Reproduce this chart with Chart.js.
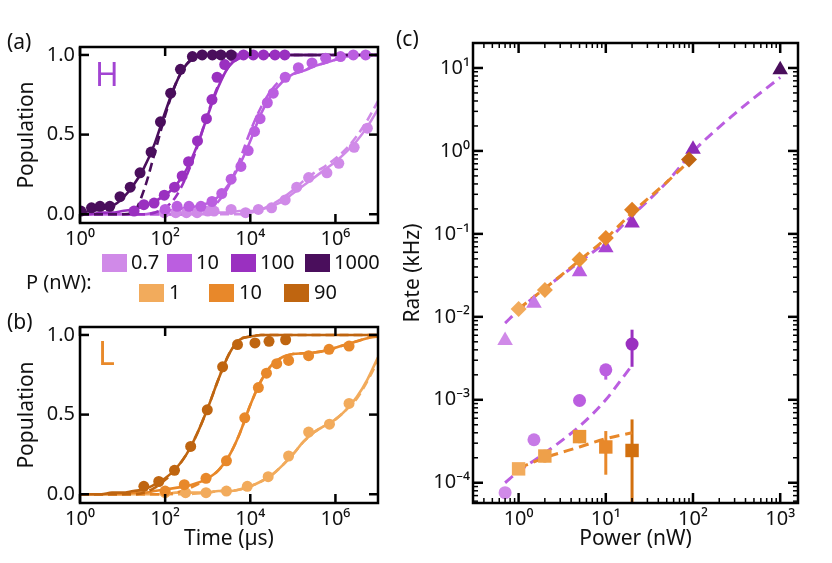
<!DOCTYPE html>
<html>
<head>
<meta charset="utf-8">
<script src="https://cdn.jsdelivr.net/npm/chart.js@4.4.1/dist/chart.umd.min.js"></script>
<style>
  body { margin: 0; background: #fff; font-family: "Noto Sans", "DejaVu Sans", sans-serif; }
  #wrap { position: relative; width: 832px; height: 563px; overflow: hidden; }
  canvas { position: absolute; }
  .lbl { position: absolute; font-size: 20px; line-height: 1; color: #111; white-space: nowrap; }
  .sw { position: absolute; width: 25px; height: 18px; }
</style>
</head>
<body>
<div id="wrap">
  <canvas id="chartA" width="395" height="225" style="left:0;top:30px"></canvas>
  <canvas id="chartB" width="395" height="250" style="left:0;top:310px"></canvas>
  <canvas id="chartC" width="437" height="535" style="left:395px;top:25px"></canvas>

  <div class="lbl" style="left:7px;top:31px;font-size:21px">(a)</div>
  <div class="lbl" style="left:7px;top:311px;font-size:21px">(b)</div>
  <div class="lbl" style="left:396px;top:28px;font-size:21px">(c)</div>
  <div class="lbl" style="left:95px;top:58px;font-size:32px;color:#a244d2">H</div>
  <div class="lbl" style="left:98px;top:337px;font-size:32px;color:#e8892a">L</div>

  <div id="legend"></div>
</div>

<script>
// ---- panel (a): H population, time given as log10(t / µs) ----
const hPowers = ['0.7', '10', '100', '1000'];
const hColors = ['#d08ae8', '#bb5ee0', '#9a30c0', '#4a0e5c'];

const hLog1000 = [0.02, 0.27, 0.47, 0.70, 0.94, 1.18, 1.41, 1.67, 1.89, 2.13, 2.36, 2.64, 2.87, 3.11, 3.31, 3.55];
const hPop1000 = [0.02, 0.04, 0.05, 0.05, 0.11, 0.17, 0.26, 0.39, 0.58, 0.76, 0.91, 0.99, 1.0, 1.0, 1.0, 1.0];
const hLog100 = [1.27, 1.50, 1.74, 1.98, 2.22, 2.40, 2.55, 2.76, 2.97, 3.10, 3.22, 3.40, 3.60, 3.84, 4.07, 4.31, 4.58, 4.81];
const hPop100 = [0.02, 0.06, 0.07, 0.12, 0.17, 0.24, 0.33, 0.46, 0.60, 0.72, 0.86, 0.94, 0.99, 1.0, 1.0, 1.0, 1.0, 1.0];
const hLog10 = [2.00, 2.28, 2.56, 2.84, 3.10, 3.33, 3.55, 3.78, 3.95, 4.10, 4.23, 4.40, 4.54, 4.82, 5.13, 5.45, 5.77, 6.12, 6.42, 6.71];
const hPop10 = [0.03, 0.05, 0.05, 0.05, 0.08, 0.13, 0.22, 0.30, 0.40, 0.52, 0.60, 0.70, 0.76, 0.86, 0.92, 0.95, 0.98, 0.99, 1.0, 1.0];
const hLog07 = [1.98, 2.25, 2.50, 2.75, 3.00, 3.15, 3.55, 3.89, 4.19, 4.50, 4.82, 5.09, 5.37, 5.80, 6.08, 6.44, 6.75];
const hPop07 = [0.01, 0.01, 0.01, 0.01, 0.02, 0.02, 0.03, 0.01, 0.03, 0.04, 0.09, 0.17, 0.23, 0.26, 0.32, 0.42, 0.54];

// fit curves read at log10(t) = 0, 0.25, ... 7
const fitLog = [0, 0.25, 0.5, 0.75, 1, 1.25, 1.5, 1.75, 2, 2.25, 2.5, 2.75, 3, 3.25, 3.5, 3.75, 4, 4.25, 4.5, 4.75, 5, 5.25, 5.5, 5.75, 6, 6.25, 6.5, 6.75, 7];
const hSolid1000 = [0.01, 0.02, 0.03, 0.05, 0.10, 0.18, 0.29, 0.44, 0.64, 0.82, 0.94, 0.99, 1, 1, 1, 1, 1, 1, 1, 1, 1, 1, 1, 1, 1, 1, 1, 1, 1];
const hDash1000 = [0, 0, 0, 0, 0, 0.01, 0.15, 0.38, 0.62, 0.82, 0.94, 0.99, 1, 1, 1, 1, 1, 1, 1, 1, 1, 1, 1, 1, 1, 1, 1, 1, 1];
const hSolid100 = [0, 0, 0.01, 0.01, 0.02, 0.03, 0.05, 0.08, 0.12, 0.18, 0.28, 0.43, 0.62, 0.80, 0.93, 0.98, 1, 1, 1, 1, 1, 1, 1, 1, 1, 1, 1, 1, 1];
const hDash100 = [0, 0, 0, 0, 0, 0, 0, 0.01, 0.04, 0.11, 0.24, 0.42, 0.63, 0.81, 0.93, 0.98, 1, 1, 1, 1, 1, 1, 1, 1, 1, 1, 1, 1, 1];
const hSolid10 = [0, 0, 0, 0, 0, 0, 0, 0.01, 0.02, 0.03, 0.04, 0.05, 0.07, 0.11, 0.19, 0.31, 0.46, 0.63, 0.75, 0.83, 0.88, 0.90, 0.93, 0.95, 0.97, 0.99, 1, 1, 1];
const hDash10 = [0, 0, 0, 0, 0, 0, 0, 0, 0, 0, 0, 0.01, 0.03, 0.08, 0.18, 0.34, 0.52, 0.67, 0.78, 0.85, 0.88, 0.90, 0.93, 0.95, 0.97, 0.99, 1, 1, 1];
const hSolid07 = [0, 0, 0, 0, 0, 0, 0, 0, 0, 0, 0, 0, 0, 0.01, 0.01, 0.02, 0.02, 0.03, 0.05, 0.08, 0.13, 0.18, 0.23, 0.28, 0.33, 0.39, 0.46, 0.55, 0.66];
const hDash07 = [0, 0, 0, 0, 0, 0, 0, 0, 0, 0, 0, 0, 0, 0, 0, 0, 0.01, 0.03, 0.06, 0.10, 0.15, 0.21, 0.26, 0.30, 0.35, 0.41, 0.49, 0.59, 0.71];

// ---- panel (b): L population ----
const lPowers = ['1', '10', '90'];
const lColors = ['#f2ab5c', '#e8882a', '#bf6510'];

const lLog90 = [1.50, 1.85, 2.22, 2.60, 2.99, 3.35, 3.70, 4.11, 4.44, 4.83];
const lPop90 = [0.05, 0.08, 0.15, 0.30, 0.53, 0.80, 0.94, 0.95, 0.96, 0.97];
const lLog10 = [2.00, 2.45, 2.96, 3.44, 3.87, 4.19, 4.38, 4.62, 4.90, 5.37, 5.85, 6.32];
const lPop10 = [0.02, 0.06, 0.10, 0.21, 0.48, 0.67, 0.76, 0.82, 0.84, 0.87, 0.91, 0.93];
const lLog1 = [2.00, 2.48, 2.96, 3.44, 3.93, 4.42, 4.90, 5.37, 5.86, 6.32];
const lPop1 = [0.01, 0.01, 0.01, 0.02, 0.05, 0.11, 0.24, 0.39, 0.44, 0.57];

const lSolid90 = [0, 0, 0, 0.01, 0.01, 0.02, 0.03, 0.06, 0.10, 0.16, 0.25, 0.38, 0.54, 0.72, 0.88, 0.97, 0.99, 1, 1, 1, 1, 1, 1, 1, 1, 1, 1, 1, 1];
const lDash90 = [0, 0, 0, 0, 0, 0, 0.01, 0.04, 0.09, 0.16, 0.25, 0.38, 0.54, 0.72, 0.88, 0.97, 0.99, 1, 1, 1, 1, 1, 1, 1, 1, 1, 1, 1, 1];
const lSolid10 = [0, 0, 0, 0, 0, 0.01, 0.01, 0.02, 0.03, 0.04, 0.05, 0.07, 0.10, 0.15, 0.24, 0.38, 0.56, 0.71, 0.81, 0.86, 0.88, 0.885, 0.89, 0.90, 0.92, 0.94, 0.96, 0.98, 0.99];
const lDash10 = [0, 0, 0, 0, 0, 0, 0, 0, 0, 0.01, 0.03, 0.06, 0.10, 0.15, 0.24, 0.38, 0.56, 0.71, 0.81, 0.86, 0.88, 0.885, 0.89, 0.90, 0.92, 0.94, 0.96, 0.98, 1.0];
const lSolid1 = [0, 0, 0, 0, 0, 0, 0, 0, 0, 0.01, 0.01, 0.01, 0.01, 0.02, 0.02, 0.03, 0.05, 0.08, 0.12, 0.18, 0.25, 0.33, 0.39, 0.43, 0.47, 0.53, 0.61, 0.72, 0.86];
const lDash1 = [0, 0, 0, 0, 0, 0, 0, 0, 0, 0, 0, 0.005, 0.01, 0.02, 0.02, 0.03, 0.05, 0.08, 0.12, 0.18, 0.25, 0.33, 0.39, 0.43, 0.47, 0.53, 0.60, 0.71, 0.84];

const timeTicks = [1, 1e2, 1e4, 1e6];
const timeTickLabels = ['10⁰', '10²', '10⁴', '10⁶'];
const popTicks = [0, 0.5, 1];
const popTickLabels = ['0.0', '0.5', '1.0'];

// ---- panel (c): rates vs power ----
const triPower = [0.7, 1.5, 5, 10, 20, 100, 1000];
const triRate = [0.0052, 0.0146, 0.035, 0.068, 0.135, 1.05, 9.5];
const triColors = ['#d08ae8', '#c77ae6', '#bb5ee0', '#a944d2', '#9a30c0', '#8c2ab6', '#4a0e5c'];
const diaPower = [1, 2, 5, 10, 20, 90];
const diaRate = [0.0124, 0.021, 0.049, 0.089, 0.195, 0.79];
const diaColors = ['#f2ab5c', '#eea04a', '#ea9535', '#e8882a', '#de7e22', '#bf6510'];
const cirPower = [0.7, 1.5, 5, 10, 20];
const cirRate = [7.6e-5, 3.3e-4, 9.8e-4, 2.3e-3, 4.7e-3];
const cirLo = [null, null, null, 1.75e-3, 2.5e-3];
const cirHi = [null, null, null, 2.6e-3, 7.0e-3];
const cirColors = ['#d08ae8', '#c77ae6', '#bb5ee0', '#bb5ee0', '#9a30c0'];
const sqPower = [1, 2, 5, 10, 20];
const sqRate = [1.47e-4, 2.1e-4, 3.6e-4, 2.7e-4, 2.45e-4];
const sqLo = [null, 1.75e-4, 3.0e-4, 1.25e-4, 1e-5];
const sqHi = [null, 2.5e-4, 4.2e-4, 4.2e-4, 5.8e-4];
const sqColors = ['#f2ab5c', '#eea04a', '#ea9535', '#e8882a', '#d2700f'];

const fitHiPurpleX = [0.7, 1, 2, 5, 10, 20, 50, 100, 300, 1000];
const fitHiPurpleY = [0.0084, 0.012, 0.022, 0.046, 0.08, 0.165, 0.42, 0.98, 2.8, 7.7];
const fitHiOrangeX = [1, 2, 5, 10, 20, 50, 90];
const fitHiOrangeY = [0.0125, 0.022, 0.048, 0.088, 0.18, 0.42, 0.75];
const fitLoPurpleX = [0.7, 1, 2, 5, 10, 15, 20];
const fitLoPurpleY = [1.0e-4, 1.37e-4, 2.28e-4, 4.8e-4, 1.0e-3, 1.74e-3, 2.6e-3];
const fitLoOrangeX = [1, 2, 5, 10, 20];
const fitLoOrangeY = [1.5e-4, 2.0e-4, 2.7e-4, 3.4e-4, 4.0e-4];

const powerTicks = [1, 10, 100, 1000];
const powerTickLabels = ['10⁰', '10¹', '10²', '10³'];
const rateTicks = [1e-4, 1e-3, 1e-2, 1e-1, 1, 10];
const rateTickLabels = ['10⁻⁴', '10⁻³', '10⁻²', '10⁻¹', '10⁰', '10¹'];

const FONT = '"Noto Sans", "DejaVu Sans", sans-serif';
Chart.defaults.font.family = FONT;
Chart.defaults.color = '#111';

// box around the plot area plus inward ticks on all four sides
const framePlugin = {
    id: 'frame',
    afterDraw(chart, args, opts) {
        const { ctx, chartArea: a, scales } = chart;
        const xs = scales.x, ys = scales.y;
        ctx.save();
        ctx.strokeStyle = '#000';
        ctx.lineCap = 'butt';
        const seg = (x1, y1, x2, y2, w) => {
            ctx.lineWidth = w;
            ctx.beginPath();
            ctx.moveTo(x1, y1);
            ctx.lineTo(x2, y2);
            ctx.stroke();
        };
        const xMarks = (vals, len, w) => vals.forEach(v => {
            const px = xs.getPixelForValue(v);
            if (px < a.left - 0.5 || px > a.right + 0.5) return;
            seg(px, a.bottom, px, a.bottom - len, w);
            seg(px, a.top, px, a.top + len, w);
        });
        const yMarks = (vals, len, w) => vals.forEach(v => {
            const py = ys.getPixelForValue(v);
            if (py < a.top - 0.5 || py > a.bottom + 0.5) return;
            seg(a.left, py, a.left + len, py, w);
            seg(a.right, py, a.right - len, py, w);
        });
        xMarks(xs.ticks.map(t => t.value), opts.major, 2.5);
        yMarks(ys.ticks.map(t => t.value), opts.major, 2.5);
        if (opts.minorX) xMarks(opts.minorX, opts.minor, 1.5);
        if (opts.minorY) yMarks(opts.minorY, opts.minor, 1.5);
        ctx.lineWidth = 2.5;
        ctx.strokeRect(a.left, a.top, a.right - a.left, a.bottom - a.top);
        ctx.restore();
    }
};

// vertical error bars drawn under the markers
const errorBarPlugin = {
    id: 'errbars',
    beforeDatasetsDraw(chart, args, opts) {
        if (!opts.sets) return;
        const { ctx, chartArea: a, scales } = chart;
        ctx.save();
        ctx.beginPath();
        ctx.rect(a.left, a.top, a.right - a.left, a.bottom - a.top);
        ctx.clip();
        ctx.lineWidth = 3;
        opts.sets.forEach(set => {
            set.x.forEach((xv, i) => {
                if (set.lo[i] == null) return;
                const px = scales.x.getPixelForValue(xv);
                ctx.strokeStyle = set.colors[i];
                ctx.beginPath();
                ctx.moveTo(px, scales.y.getPixelForValue(set.lo[i]));
                ctx.lineTo(px, scales.y.getPixelForValue(set.hi[i]));
                ctx.stroke();
            });
        });
        ctx.restore();
    }
};

const toPts = (logs, vals) => logs.map((l, i) => ({ x: Math.pow(10, l), y: vals[i] }));
const toXY = (xs, ys) => xs.map((v, i) => ({ x: v, y: ys[i] }));

const dots = (logs, vals, color) => ({
    data: toPts(logs, vals), showLine: false,
    pointRadius: 5.5, pointBackgroundColor: color, pointBorderWidth: 0
});
const curve = (vals, color, dashed) => ({
    data: toPts(fitLog, vals), showLine: true, pointRadius: 0,
    borderColor: color, borderWidth: 2.6, cubicInterpolationMode: 'monotone',
    borderDash: dashed ? [9, 5] : []
});

const noGrid = { display: false, drawTicks: false };

const popOptions = (xHeight, xTitle) => ({
    responsive: false,
    animation: false,
    layout: { padding: { top: 14, right: 17, left: 0, bottom: 0 } },
    plugins: { legend: { display: false }, tooltip: { enabled: false }, frame: { major: 9 } },
    scales: {
        x: {
            type: 'logarithmic', min: 1, max: 1e7,
            afterBuildTicks: s => { s.ticks = timeTicks.map(v => ({ value: v })); },
            afterFit: s => { s.height = xHeight; },
            ticks: { autoSkip: false, maxRotation: 0, padding: 4, font: { size: 20 }, callback: (v, i) => timeTickLabels[i] },
            grid: noGrid, border: { display: false },
            title: xTitle ? { display: true, text: xTitle, font: { size: 21 }, padding: { top: 0, bottom: 8 } } : { display: false }
        },
        y: {
            min: -0.055, max: 1.05,
            afterBuildTicks: s => { s.ticks = popTicks.map(v => ({ value: v })); },
            afterFit: s => { s.width = 80; },
            ticks: { padding: 5, font: { size: 20 }, callback: (v, i) => popTickLabels[i] },
            grid: noGrid, border: { display: false },
            title: { display: true, text: 'Population', font: { size: 21 }, padding: { top: 14, bottom: 0 } }
        }
    }
});

// ---- chart (a) ----
new Chart(document.getElementById('chartA'), {
    type: 'scatter',
    data: {
        datasets: [
            dots(hLog1000, hPop1000, hColors[3]),
            dots(hLog100, hPop100, hColors[2]),
            dots(hLog10, hPop10, hColors[1]),
            dots(hLog07, hPop07, hColors[0]),
            curve(hSolid1000, hColors[3], false),
            curve(hDash1000, hColors[3], true),
            curve(hSolid100, hColors[2], false),
            curve(hDash100, hColors[2], true),
            curve(hSolid10, hColors[1], false),
            curve(hDash10, hColors[1], true),
            curve(hSolid07, hColors[0], false),
            curve(hDash07, hColors[0], true)
        ]
    },
    options: popOptions(32, null),
    plugins: [framePlugin]
});

// ---- chart (b) ----
new Chart(document.getElementById('chartB'), {
    type: 'scatter',
    data: {
        datasets: [
            dots(lLog90, lPop90, lColors[2]),
            dots(lLog10, lPop10, lColors[1]),
            dots(lLog1, lPop1, lColors[0]),
            curve(lDash90, lColors[2], true),
            curve(lSolid90, lColors[2], false),
            curve(lDash10, lColors[1], true),
            curve(lSolid10, lColors[1], false),
            curve(lDash1, lColors[0], true),
            curve(lSolid1, lColors[0], false)
        ]
    },
    options: popOptions(57, 'Time (µs)'),
    plugins: [framePlugin]
});

// ---- chart (c) ----
const minorPower = [];
for (let e = -1; e <= 3; e++) for (let m = 2; m <= 9; m++) minorPower.push(m * Math.pow(10, e));
const minorRate = [];
for (let e = -5; e <= 1; e++) for (let m = 2; m <= 9; m++) minorRate.push(m * Math.pow(10, e));

const fitLine = (xs, ys, color) => ({
    data: toXY(xs, ys), showLine: true, pointRadius: 0,
    borderColor: color, borderWidth: 3, borderDash: [10, 6], cubicInterpolationMode: 'monotone'
});
const markers = (xs, ys, colors, style, r) => ({
    data: toXY(xs, ys), showLine: false, pointStyle: style,
    pointRadius: r, pointBackgroundColor: colors, pointBorderWidth: 0
});

new Chart(document.getElementById('chartC'), {
    type: 'scatter',
    data: {
        datasets: [
            markers(diaPower, diaRate, diaColors, 'rectRot', 8),
            markers(triPower, triRate, triColors, 'triangle', 9),
            markers(sqPower, sqRate, sqColors, 'rect', 9.5),
            markers(cirPower, cirRate, cirColors, 'circle', 6.5),
            fitLine(fitHiOrangeX, fitHiOrangeY, '#e8882a'),
            fitLine(fitHiPurpleX, fitHiPurpleY, '#bb5ee0'),
            fitLine(fitLoOrangeX, fitLoOrangeY, '#e8882a'),
            fitLine(fitLoPurpleX, fitLoPurpleY, '#bb5ee0')
        ]
    },
    options: {
        responsive: false,
        animation: false,
        layout: { padding: { top: 18, right: 34, left: 0, bottom: 0 } },
        plugins: {
            legend: { display: false }, tooltip: { enabled: false },
            frame: { major: 10, minor: 5, minorX: minorPower, minorY: minorRate },
            errbars: {
                sets: [
                    { x: cirPower, lo: cirLo, hi: cirHi, colors: cirColors },
                    { x: sqPower, lo: sqLo, hi: sqHi, colors: sqColors }
                ]
            }
        },
        scales: {
            x: {
                type: 'logarithmic', min: 0.316, max: 1600,
                afterBuildTicks: s => { s.ticks = powerTicks.map(v => ({ value: v })); },
                afterFit: s => { s.height = 57; },
                ticks: { autoSkip: false, maxRotation: 0, padding: 4, font: { size: 20 }, callback: (v, i) => powerTickLabels[i] },
                grid: noGrid, border: { display: false },
                title: { display: true, text: 'Power (nW)', font: { size: 21 }, padding: { top: 0, bottom: 8 } }
            },
            y: {
                type: 'logarithmic', min: 5.7e-5, max: 20,
                afterBuildTicks: s => { s.ticks = rateTicks.map(v => ({ value: v })); },
                afterFit: s => { s.width = 78; },
                ticks: { padding: 3, font: { size: 20 }, callback: (v, i) => rateTickLabels[i] },
                grid: noGrid, border: { display: false },
                title: { display: true, text: 'Rate (kHz)', font: { size: 21 }, padding: { top: 5, bottom: 0 } }
            }
        }
    },
    plugins: [framePlugin, errorBarPlugin]
});

// ---- shared legend ----
const legend = document.getElementById('legend');
const addLabel = (text, left, top) => {
    const d = document.createElement('div');
    d.className = 'lbl';
    d.style.left = left + 'px';
    d.style.top = top + 'px';
    d.textContent = text;
    legend.appendChild(d);
};
const addSwatch = (color, left, top) => {
    const d = document.createElement('div');
    d.className = 'sw';
    d.style.left = left + 'px';
    d.style.top = top + 'px';
    d.style.background = color;
    legend.appendChild(d);
};
const hSwatchX = [102, 167, 231, 305];
hPowers.forEach((p, i) => {
    addSwatch(hColors[i], hSwatchX[i], 254);
    addLabel(p, hSwatchX[i] + 29, 252);
});
const lSwatchX = [139, 209, 284];
lPowers.forEach((p, i) => {
    addSwatch(lColors[i], lSwatchX[i], 284);
    addLabel(p, lSwatchX[i] + 30, 282);
});
addLabel('P (nW):', 26, 272);
</script>
</body>
</html>
